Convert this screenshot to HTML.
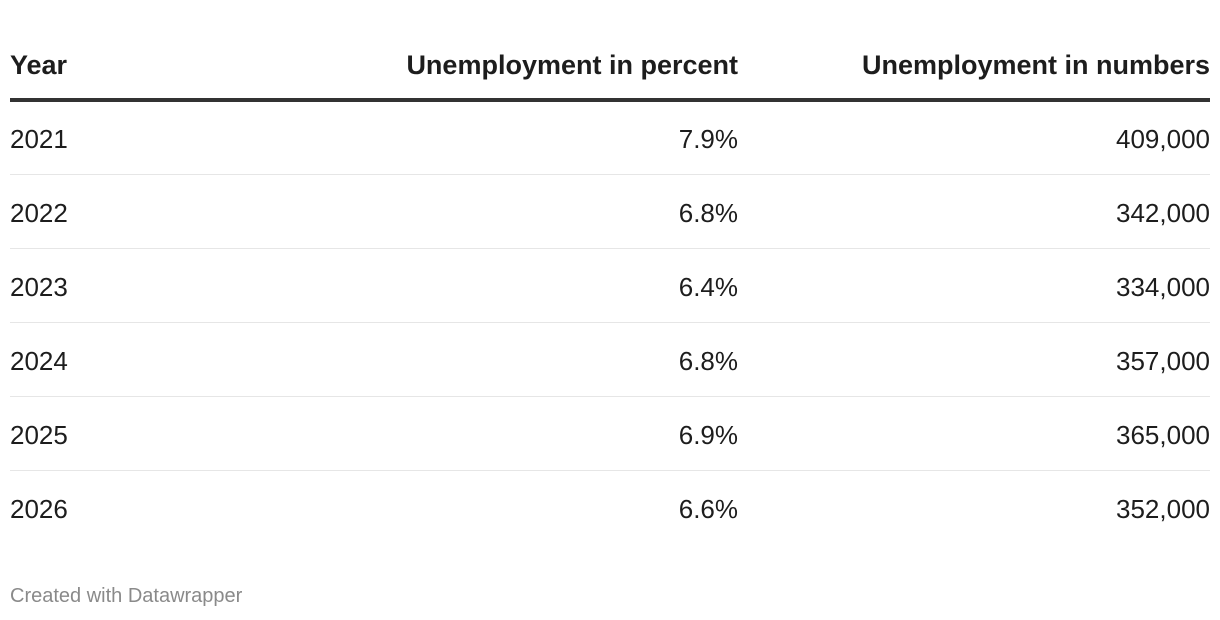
<!DOCTYPE html>
<html><head><meta charset="utf-8"><style>
body{margin:0;width:1220px;height:620px;background:#fff;position:relative;overflow:hidden;font-family:"Liberation Sans",sans-serif;color:#1d1d1d}
.t{position:absolute;white-space:nowrap;line-height:normal}
.h{font-weight:bold;font-size:27px;top:50px}
.c{font-size:26px}
.r1{right:482px}.r2{right:10px}
.sep{position:absolute;left:10px;width:1200px;height:1px;background:#e6e6e6}
</style></head><body>
<div class="t h" style="left:10px">Year</div>
<div class="t h r1">Unemployment in percent</div>
<div class="t h r2">Unemployment in numbers</div>
<div style="position:absolute;left:10px;top:98px;width:1200px;height:4px;background:#333"></div>
<div id="rows"></div>
<div class="t" style="left:10px;top:585px;font-size:20px;color:#8a8a8a">Created with Datawrapper</div>
<script>
const years=["2021","2022","2023","2024","2025","2026"];
const pct=["7.9%","6.8%","6.4%","6.8%","6.9%","6.6%"];
const nums=["409,000","342,000","334,000","357,000","365,000","352,000"];
const root=document.getElementById('rows');
years.forEach((y,i)=>{
  const top=124+i*74;
  const mk=(txt,cls,style,name)=>{const d=document.createElement('div');d.className='t c '+cls;d.style.cssText=style+';top:'+top+'px';d.textContent=txt;
    
    
    root.appendChild(d);};
  mk(y,'','left:10px','year-cell');
  mk(pct[i],'r1','','percent-cell');
  mk(nums[i],'r2','','numbers-cell');
  if(i<years.length-1){const s=document.createElement('div');s.className='sep';s.style.top=(174+i*74)+'px';
    
    
    root.appendChild(s);}
});
</script>
</body></html>
